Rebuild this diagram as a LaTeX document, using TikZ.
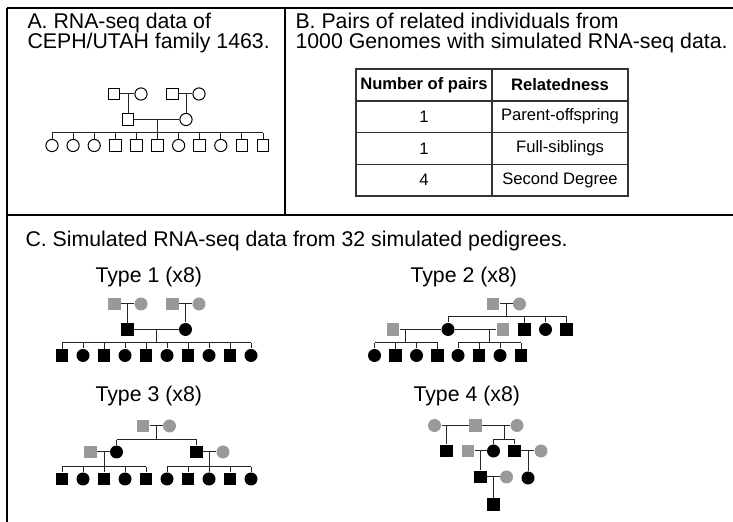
\documentclass[tikz,border=0pt]{standalone}
\usepackage{fontspec}
\setmainfont{Liberation Sans}
\definecolor{fndgray}{gray}{0.6}
\definecolor{lingray}{gray}{0.15}

\begin{document}
\begin{tikzpicture}[x=0.5pt,y=-0.5pt,line width=0.5pt,
    font=\fontsize{10.65pt}{12pt}\selectfont,
    every node/.style={inner sep=0pt},
    msq/.style={draw=black,fill=white,rectangle,minimum size=5.9pt},
    fci/.style={draw=black,fill=white,circle,minimum size=6.1pt},
    maff/.style={fill=black,rectangle,minimum size=6.3pt},
    faff/.style={fill=black,circle,minimum size=6.5pt},
    mfnd/.style={fill=fndgray,rectangle,minimum size=6.3pt},
    ffnd/.style={fill=fndgray,circle,minimum size=6.5pt},
    cell/.style={draw=black!80,line width=0.7pt,minimum width=68pt,minimum height=15.85pt,
      font=\fontsize{8.3pt}{9pt}\selectfont}]
  \useasboundingbox (0,0) rectangle (733,522);
  \draw [line width=1.2pt] (7,8) -- (733,8);
  \draw [line width=1pt] (7,8) -- (7,522);
  \draw [line width=1.2pt] (7,215) -- (733,215);
  \draw [line width=0.6pt] (285,8) -- (285,215);

  \node [anchor=base west] (ttlA1) at (27,28.5) {A. RNA-seq data of};
  \node [anchor=base west] (ttlA2) at (27,48.5) {CEPH/UTAH family 1463.};
  \node [anchor=base west] (ttlB1) at (295,28.5) {B. Pairs of related individuals from};
  \node [anchor=base west] (ttlB2) at (295,48.5) {1000 Genomes with simulated RNA-seq data.};
  \node [anchor=base west] (ttlC) at (25,247) {C. Simulated RNA-seq data from 32 simulated pedigrees.};
  \node [anchor=base west] (typ1) at (95,283) {Type 1 (x8)};
  \node [anchor=base west] (typ2) at (410,283) {Type 2 (x8)};
  \node [anchor=base west] (typ3) at (95,402) {Type 3 (x8)};
  \node [anchor=base west] (typ4) at (413,402) {Type 4 (x8)};

  \node [cell] (h1) at (424,85) {\bfseries Number of pairs};
  \node [cell] (h2) at (560,85) {\bfseries Relatedness};
  \node [cell] (n1) at (424,116.7) {1};
  \node [cell] (r1) at (560,116.7) {Parent-offspring};
  \node [cell] (n2) at (424,148.4) {1};
  \node [cell] (r2) at (560,148.4) {Full-siblings};
  \node [cell] (n3) at (424,180.1) {4};
  \node [cell] (r3) at (560,180.1) {Second Degree};

  \begin{scope}[draw=lingray]
  \node [msq] (gpA1) at (114,94) {};
  \node [fci] (gmA1) at (141,94) {};
  \node [msq] (gpA2) at (172.5,94) {};
  \node [fci] (gmA2) at (199,94) {};
  \node [msq] (faA) at (128,119.5) {};
  \node [fci] (moA) at (186,119.5) {};
  \draw (gpA1) -- (gmA1);
  \draw (gpA2) -- (gmA2);
  \draw (faA) -- (faA |- gpA1);
  \draw (moA) -- (moA |- gpA2);
  \draw (faA) -- (moA);
  \coordinate (jA) at (157,133);
  \draw (jA) -- (jA |- faA);
  \foreach \s [count=\i from 0] in {fci,fci,fci,msq,msq,msq,fci,msq,fci,msq,msq} {
    \node [\s] (kA\i) at (52+21.1*\i,145.5) {};
    \draw (kA\i) -- (kA\i |- jA);
  }
  \draw (kA0 |- jA) -- (kA10 |- jA);

  \node [mfnd] (gp11) at (114.5,304) {};
  \node [ffnd] (gm11) at (141,304) {};
  \node [mfnd] (gp12) at (172.5,304) {};
  \node [ffnd] (gm12) at (199,304) {};
  \node [maff] (fa1) at (127.5,329.5) {};
  \node [faff] (mo1) at (185.5,329.5) {};
  \draw (gp11) -- (gm11);
  \draw (gp12) -- (gm12);
  \draw (fa1) -- (fa1 |- gp11);
  \draw (mo1) -- (mo1 |- gp12);
  \draw (fa1) -- (mo1);
  \coordinate (j1) at (156.5,343);
  \draw (j1) -- (j1 |- fa1);
  \foreach \s [count=\i from 0] in {maff,faff,maff,faff,maff,faff,maff,faff,maff,faff} {
    \node [\s] (k1\i) at (62+21*\i,355.5) {};
    \draw (k1\i) -- (k1\i |- j1);
  }
  \draw (k10 |- j1) -- (k19 |- j1);

  \node [mfnd] (gp2) at (493,304) {};
  \node [ffnd] (gm2) at (519.5,304) {};
  \draw (gp2) -- (gm2);
  \coordinate (j2) at (506.7,316.7);
  \draw (j2) -- (j2 |- gp2);
  \node [faff] (mo2) at (448,329.5) {};
  \node [maff] (un2a) at (524.5,329.5) {};
  \node [faff] (au2) at (545.5,329.5) {};
  \node [maff] (un2b) at (566.5,329.5) {};
  \draw (mo2 |- j2) -- (un2b |- j2);
  \foreach \n in {mo2,un2a,au2,un2b}
    \draw (\n) -- (\n |- j2);
  \node [mfnd] (sp2a) at (393,329.5) {};
  \node [mfnd] (sp2b) at (503,329.5) {};
  \draw (sp2a) -- (mo2);
  \draw (mo2) -- (sp2b);
  \coordinate (j2a) at (405.7,343);
  \coordinate (j2b) at (489,343);
  \draw (j2a) -- (j2a |- sp2a);
  \draw (j2b) -- (j2b |- sp2b);
  \foreach \s [count=\i from 0] in {faff,maff,faff,maff} {
    \node [\s] (k2a\i) at (374.5+21*\i,355.5) {};
    \draw (k2a\i) -- (k2a\i |- j2a);
    \node [\s] (k2b\i) at (458+21*\i,355.5) {};
    \draw (k2b\i) -- (k2b\i |- j2b);
  }
  \draw (k2a0 |- j2a) -- (k2a3 |- j2a);
  \draw (k2b0 |- j2b) -- (k2b3 |- j2b);

  \node [mfnd] (gp3) at (143,426) {};
  \node [ffnd] (gm3) at (169.5,426) {};
  \draw (gp3) -- (gm3);
  \coordinate (j3) at (156,440);
  \draw (j3) -- (j3 |- gp3);
  \node [faff] (da3) at (116.5,452) {};
  \node [maff] (so3) at (196.5,452) {};
  \draw (da3 |- j3) -- (so3 |- j3);
  \draw (da3) -- (da3 |- j3);
  \draw (so3) -- (so3 |- j3);
  \node [mfnd] (sp3a) at (90.5,452) {};
  \node [ffnd] (sp3b) at (223,452) {};
  \draw (sp3a) -- (da3);
  \draw (so3) -- (sp3b);
  \coordinate (j3a) at (104,467);
  \coordinate (j3b) at (209,467);
  \draw (j3a) -- (j3a |- da3);
  \draw (j3b) -- (j3b |- so3);
  \foreach \s [count=\i from 0] in {maff,faff,maff,faff,maff} {
    \node [\s] (k3a\i) at (62+21*\i,479) {};
    \draw (k3a\i) -- (k3a\i |- j3a);
  }
  \foreach \s [count=\i from 0] in {faff,maff,faff,maff,faff} {
    \node [\s] (k3b\i) at (167+21*\i,479) {};
    \draw (k3b\i) -- (k3b\i |- j3b);
  }
  \draw (k3a0 |- j3a) -- (k3a4 |- j3a);
  \draw (k3b0 |- j3b) -- (k3b4 |- j3b);

  \node [ffnd] (wa4) at (434.5,425.5) {};
  \node [mfnd] (hu4) at (475.5,425.5) {};
  \node [ffnd] (wb4) at (517,425.5) {};
  \draw (wa4) -- (hu4);
  \draw (hu4) -- (wb4);
  \node [maff] (so4) at (446.5,451) {};
  \draw (so4) -- (so4 |- wa4);
  \coordinate (j4) at (504.3,439.3);
  \draw (j4) -- (j4 |- hu4);
  \node [faff] (da4) at (493.5,451) {};
  \node [maff] (sb4) at (514.5,451) {};
  \draw (da4 |- j4) -- (sb4 |- j4);
  \draw (da4) -- (da4 |- j4);
  \draw (sb4) -- (sb4 |- j4);
  \node [mfnd] (sp4a) at (468,451) {};
  \node [ffnd] (sp4b) at (541,451) {};
  \draw (sp4a) -- (da4);
  \draw (sb4) -- (sp4b);
  \node [maff] (gs4) at (480.5,477) {};
  \node [faff] (gd4) at (528,478) {};
  \draw (gs4) -- (gs4 |- sp4a);
  \draw (gd4) -- (gd4 |- sp4b);
  \node [ffnd] (sp4c) at (506.5,477) {};
  \draw (gs4) -- (sp4c);
  \node [maff] (gg4) at (493.5,504.5) {};
  \draw (gg4) -- (gg4 |- sp4c);
  \end{scope}
\end{tikzpicture}
\end{document}
